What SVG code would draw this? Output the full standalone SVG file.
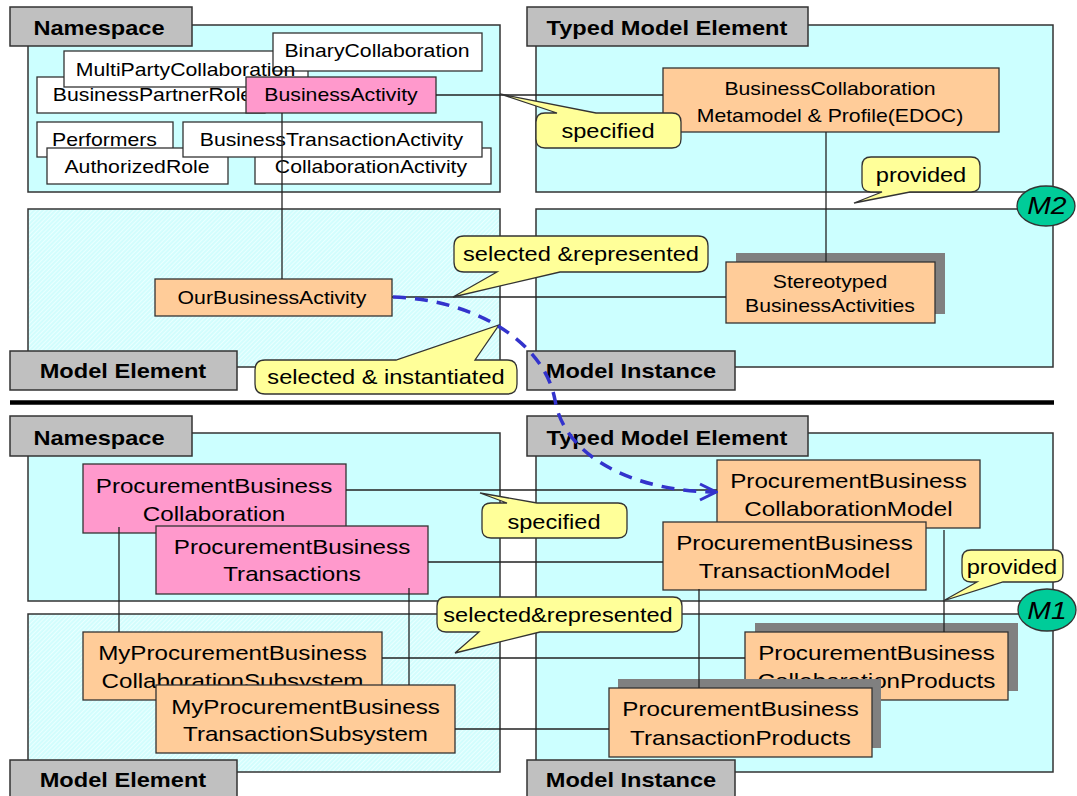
<svg xmlns="http://www.w3.org/2000/svg" width="1077" height="796" viewBox="0 0 1077 796">
<style>
  text { font-family: "Liberation Sans", Arial, sans-serif; text-anchor: middle; fill: #000;
         transform-box: fill-box; transform-origin: center; transform: scaleX(1.18); }
  .s { font-size: 18px; }
  .b { font-size: 20.5px; }
  .c { font-size: 20px; }
  .l { font-size: 20px; font-weight: bold; }
  .m { font-size: 24px; font-style: italic; }
  .pn { fill: #ccffff; stroke: #333; stroke-width: 1.5; }
  .ph { fill: url(#hatch); stroke: #333; stroke-width: 1.5; }
  .lb { fill: #c0c0c0; stroke: #333; stroke-width: 1.5; }
  .wb { fill: #fff; stroke: #333; stroke-width: 1.3; }
  .ob { fill: #ffcc99; stroke: #333; stroke-width: 1.3; }
  .pk { fill: #ff99cc; stroke: #333; stroke-width: 1.3; }
  .sh { fill: #808080; }
  .co { fill: #ffff99; stroke: #333; stroke-width: 1.3; }
  .ov { fill: #00cc99; stroke: #333; stroke-width: 1.3; }
  .ln { stroke: #222; stroke-width: 1.3; fill: none; }
</style>
<defs>
  <pattern id="hatch" width="3" height="3" patternUnits="userSpaceOnUse" patternTransform="rotate(45)">
    <rect width="3" height="3" fill="#d2fdfd"/>
    <rect width="1" height="3" fill="#eaffff"/>
  </pattern>
  <marker id="chev" viewBox="0 0 20 20" refX="18" refY="10" markerWidth="20" markerHeight="20" markerUnits="userSpaceOnUse" orient="auto">
    <path d="M2,2 L18,10 L2,18" fill="none" stroke="#3333cc" stroke-width="3"/>
  </marker>
</defs>

<!-- layer panels -->
<g id="panels">
  <rect id="panel-ns-m2" class="pn" x="28" y="25" width="472" height="167"/>
  <rect id="panel-tme-m2" class="pn" x="536" y="25" width="517" height="167"/>
  <rect id="panel-me-m2" class="ph" x="28" y="209" width="472" height="158"/>
  <rect id="panel-mi-m2" class="pn" x="536" y="209" width="517" height="158"/>
  <rect id="panel-ns-m1" class="pn" x="28" y="433" width="472" height="168"/>
  <rect id="panel-tme-m1" class="pn" x="536" y="433" width="517" height="168"/>
  <rect id="panel-me-m1" class="ph" x="28" y="614" width="472" height="158"/>
  <rect id="panel-mi-m1" class="pn" x="536" y="614" width="517" height="158"/>
</g>

<g id="panel-labels">
  <g id="lbl-ns-m2"><rect class="lb" x="10" y="7" width="182" height="39"/><text class="l" x="99" y="35">Namespace</text></g>
  <g id="lbl-tme-m2"><rect class="lb" x="527" y="7" width="281" height="39"/><text class="l" x="667" y="35">Typed Model Element</text></g>
  <g id="lbl-me-m2"><rect class="lb" x="10" y="351" width="227" height="39"/><text class="l" x="123" y="378">Model Element</text></g>
  <g id="lbl-mi-m2"><rect class="lb" x="527" y="351" width="208" height="39"/><text class="l" x="631" y="378">Model Instance</text></g>
  <g id="lbl-ns-m1"><rect class="lb" x="10" y="416" width="182" height="40"/><text class="l" x="99" y="445">Namespace</text></g>
  <g id="lbl-tme-m1"><rect class="lb" x="527" y="416" width="281" height="40"/><text class="l" x="667" y="445">Typed Model Element</text></g>
  <g id="lbl-me-m1"><rect class="lb" x="10" y="760" width="227" height="42"/><text class="l" x="123" y="787">Model Element</text></g>
  <g id="lbl-mi-m1"><rect class="lb" x="527" y="760" width="208" height="42"/><text class="l" x="631" y="787">Model Instance</text></g>
</g>

<!-- level separator -->
<line x1="10" y1="402.5" x2="1054" y2="402.5" stroke="#000" stroke-width="4.5"/>

<!-- M2 level nodes -->
<g id="BusinessPartnerRole"><rect class="wb" x="37" y="77" width="228" height="36"/><text class="s" x="152.5" y="101.5">BusinessPartnerRole</text></g>
<g id="MultiPartyCollaboration"><rect class="wb" x="64" y="51" width="244" height="36"/></g>
<g id="BinaryCollaboration"><rect class="wb" x="273" y="33" width="209" height="38"/><text class="s" x="377" y="57.5">BinaryCollaboration</text></g>
<text class="s" x="185.5" y="76">MultiPartyCollaboration</text>
<g id="BusinessActivity"><rect class="pk" x="246" y="77" width="190" height="36"/><text class="s" x="341" y="101.5">BusinessActivity</text></g>
<g id="Performers"><rect class="wb" x="37" y="122" width="136" height="35"/><text class="s" x="104.5" y="146.5">Performers</text></g>
<g id="AuthorizedRole"><rect class="wb" x="47" y="148" width="181" height="36"/><text class="s" x="137" y="173">AuthorizedRole</text></g>
<g id="CollaborationActivity"><rect class="wb" x="255" y="148" width="236" height="36"/><text class="s" x="371" y="173">CollaborationActivity</text></g>
<g id="BusinessTransactionActivity"><rect class="wb" x="183" y="122" width="299" height="35"/><text class="s" x="331.5" y="146.5">BusinessTransactionActivity</text></g>
<g id="BusinessCollaborationMetamodel"><rect class="ob" x="663" y="68" width="336" height="64"/><text class="s" x="830" y="95">BusinessCollaboration</text><text class="s" x="830" y="122">Metamodel &amp; Profile(EDOC)</text></g>
<g id="OurBusinessActivity"><rect class="ob" x="155" y="279" width="237" height="37"/><text class="s" x="272" y="304">OurBusinessActivity</text></g>
<g id="StereotypedBusinessActivities"><rect class="sh" x="736" y="253" width="209" height="61"/><rect class="ob" x="726" y="262" width="209" height="61"/><text class="s" x="830" y="288">Stereotyped</text><text class="s" x="830" y="312.5">BusinessActivities</text></g>

<!-- M1 level nodes -->
<g id="ProcurementBusinessCollaboration"><rect class="pk" x="83" y="464" width="263" height="69"/><text class="b" x="214" y="493">ProcurementBusiness</text><text class="b" x="214" y="521.5">Collaboration</text></g>
<g id="ProcurementBusinessTransactions"><rect class="pk" x="156" y="526" width="272" height="68"/><text class="b" x="292" y="554">ProcurementBusiness</text><text class="b" x="292" y="581.5">Transactions</text></g>
<g id="MyProcurementBusinessCollaborationSubsystem"><rect class="ob" x="83" y="632" width="299" height="68"/><text class="b" x="232.5" y="660">MyProcurementBusiness</text><text class="b" x="232.5" y="688">CollaborationSubsystem</text></g>
<g id="MyProcurementBusinessTransactionSubsystem"><rect class="ob" x="156" y="685" width="299" height="68"/><text class="b" x="305.5" y="714">MyProcurementBusiness</text><text class="b" x="305.5" y="741.5">TransactionSubsystem</text></g>
<g id="ProcurementBusinessCollaborationModel"><rect class="ob" x="717" y="460" width="263" height="68"/><text class="b" x="848.5" y="488">ProcurementBusiness</text><text class="b" x="848.5" y="516.5">CollaborationModel</text></g>
<g id="ProcurementBusinessTransactionModel"><rect class="ob" x="663" y="522" width="263" height="68"/><text class="b" x="794.5" y="550">ProcurementBusiness</text><text class="b" x="794.5" y="578">TransactionModel</text></g>
<g id="ProcurementBusinessCollaborationProducts"><rect class="sh" x="755" y="623" width="263" height="68"/><rect class="ob" x="745" y="632" width="263" height="68"/><text class="b" x="876.5" y="660">ProcurementBusiness</text><text class="b" x="876.5" y="688">CollaborationProducts</text></g>
<g id="ProcurementBusinessTransactionProducts"><rect class="sh" x="618" y="679" width="263" height="69"/><rect class="ob" x="609" y="688" width="263" height="69"/><text class="b" x="740.5" y="716.5">ProcurementBusiness</text><text class="b" x="740.5" y="745">TransactionProducts</text></g>

<!-- connectors -->
<g id="connectors">
  <line class="ln" x1="282" y1="113" x2="282" y2="279"/>
  <line class="ln" x1="436" y1="95" x2="663" y2="95"/>
  <line class="ln" x1="826" y1="132" x2="826" y2="262"/>
  <line class="ln" x1="392" y1="297" x2="726" y2="297"/>
  <line class="ln" x1="119" y1="527" x2="119" y2="632"/>
  <line class="ln" x1="409" y1="588" x2="409" y2="685"/>
  <line class="ln" x1="346" y1="490" x2="717" y2="490"/>
  <line class="ln" x1="428" y1="562" x2="663" y2="562"/>
  <line class="ln" x1="944" y1="530" x2="944" y2="632"/>
  <line class="ln" x1="699" y1="589" x2="699" y2="688"/>
  <line class="ln" x1="382" y1="658" x2="745" y2="658"/>
  <line class="ln" x1="455" y1="729" x2="609" y2="729"/>
</g>

<!-- callouts -->
<g id="callouts">
  <g id="co-specified-m2"><path class="co" d="M545,113 L557,113 L500,94 L596,113 L672,113 Q681,113 681,122 L681,139 Q681,148 672,148 L545,148 Q536,148 536,139 L536,122 Q536,113 545,113 Z"/><text class="c" x="608" y="138">specified</text></g>
  <g id="co-provided-m2"><path class="co" d="M871,157 L971,157 Q980,157 980,166 L980,183 Q980,192 971,192 L910,192 L854,203 L882,192 L871,192 Q862,192 862,183 L862,166 Q862,157 871,157 Z"/><text class="c" x="921" y="182">provided</text></g>
  <g id="co-selrep-m2"><path class="co" d="M464,236 L698,236 Q708,236 708,246 L708,262 Q708,272 698,272 L560,272 L453,297 L497,272 L464,272 Q454,272 454,262 L454,246 Q454,236 464,236 Z"/><text class="c" x="581" y="261">selected &amp;represented</text></g>
  <g id="co-selinst-m2"><path class="co" d="M265,360 L396,360 L499,325 L475,360 L507,360 Q517,360 517,370 L517,384 Q517,394 507,394 L265,394 Q255,394 255,384 L255,370 Q255,360 265,360 Z"/><text class="c" x="386" y="384">selected &amp; instantiated</text></g>
  <g id="co-specified-m1"><path class="co" d="M491,503 L507,503 L480,493 L537,503 L618,503 Q627,503 627,512 L627,529 Q627,538 618,538 L491,538 Q482,538 482,529 L482,512 Q482,503 491,503 Z"/><text class="c" x="554" y="529">specified</text></g>
  <g id="co-selrep-m1"><path class="co" d="M446,597 L673,597 Q682,597 682,606 L682,623 Q682,632 673,632 L540,632 L455,653 L479,632 L446,632 Q437,632 437,623 L437,606 Q437,597 446,597 Z"/><text class="c" x="558" y="622">selected&amp;represented</text></g>
  <g id="co-provided-m1"><path class="co" d="M971,550 L1054,550 Q1063,550 1063,559 L1063,573 Q1063,582 1054,582 L1003,582 L943,601 L977,582 L971,582 Q962,582 962,573 L962,559 Q962,550 971,550 Z"/><text class="c" x="1012" y="574">provided</text></g>
</g>

<!-- level markers -->
<g id="M2"><ellipse class="ov" cx="1046" cy="206" rx="29" ry="20"/><text class="m" x="1047" y="214.5">M2</text></g>
<g id="M1"><ellipse class="ov" cx="1047" cy="610" rx="29" ry="21"/><text class="m" x="1047" y="619">M1</text></g>

<!-- instantiation link -->
<path id="instantiation" d="M393,297 C480,300 545,345 555,400 C565,460 640,492 716,492" fill="none" stroke="#3333cc" stroke-width="3.5" stroke-dasharray="13 9" marker-end="url(#chev)"/>
</svg>
